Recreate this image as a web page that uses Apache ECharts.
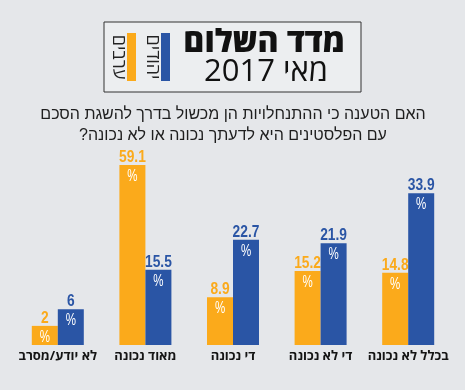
<!DOCTYPE html>
<html>
<head>
<meta charset="utf-8">
<script src="https://cdn.jsdelivr.net/npm/echarts@6/dist/echarts.min.js"></script>
<style>
html,body{margin:0;padding:0;background:#e5e7ea;}
#chart{width:465px;height:390px;}
</style>
</head>
<body>
<div id="chart"></div>
<script>
const categories = ['לא יודע/מסרב', 'מאוד נכונה', 'די נכונה', 'די לא נכונה', 'בכלל לא נכונה'];
const arabs = [2, 59.1, 8.9, 15.2, 14.8];
const jews = [6, 15.5, 22.7, 21.9, 33.9];
const seriesNames = ['ערבים', 'יהודים'];
const titleLine1 = 'מדד השלום';
const titleLine2 = 'מאי 2017';
const questionLines = ['האם הטענה כי ההתנחלויות הן מכשול בדרך להשגת הסכם', 'עם הפלסטינים היא לדעתך נכונה או לא נכונה?\u200F'];

const ORANGE = '#fbaa1b';
const BLUE = '#2a55a5';
const AXIS_MIN = -2.6;
const AXIS_MAX = 40.7;
const BAR_W = 26;
const HEB = '"Open Sans", "Liberation Sans", Arial, sans-serif';
const NUM_FONT = 'bold 16px "Liberation Sans", Arial, sans-serif';
const PCT_FONT = '16px "Liberation Sans", Arial, sans-serif';

function makeSeries(name, values, color, side) {
  return {
    type: 'custom',
    name: name,
    data: values.map((v, i) => [i, v]),
    encode: { x: 0, y: 1 },
    renderItem: function (params, api) {
      const i = api.value(0);
      const v = api.value(1);
      const top = api.coord([i, v]);
      const base = api.coord([i, AXIS_MIN]);
      const cs = params.coordSys;
      const yTop = Math.max(top[1], cs.y);
      const x0 = side < 0 ? top[0] - BAR_W : top[0];
      const cx = x0 + BAR_W / 2;
      return {
        type: 'group',
        children: [
          { type: 'rect', shape: { x: x0, y: yTop, width: BAR_W, height: base[1] - yTop }, style: { fill: color } },
          { type: 'text', x: cx, y: yTop - 7.5, scaleX: 0.86, style: { text: String(v), x: 0, y: 0, align: 'center', verticalAlign: 'middle', fill: color, font: NUM_FONT } },
          { type: 'text', x: cx, y: yTop + 11.5, scaleX: 0.72, style: { text: '%', x: 0, y: 0, align: 'center', verticalAlign: 'middle', fill: '#ffffff', font: PCT_FONT } }
        ]
      };
    }
  };
}

const chart = echarts.init(document.getElementById('chart'));
chart.setOption({
  backgroundColor: '#e5e7ea',
  animation: false,
  grid: { left: 14, right: 13, top: 165, bottom: 45 },
  xAxis: {
    type: 'category',
    data: categories,
    axisLine: { show: false },
    axisTick: { show: false },
    axisLabel: { margin: 5, color: '#151515', fontSize: 13, fontWeight: 'bold', fontFamily: HEB, interval: 0 }
  },
  yAxis: { type: 'value', min: AXIS_MIN, max: AXIS_MAX, show: false, splitLine: { show: false } },
  series: [
    makeSeries(seriesNames[0], arabs, ORANGE, -1),
    makeSeries(seriesNames[1], jews, BLUE, 1)
  ],
  graphic: [
    { type: 'rect', shape: { x: 104, y: 22, width: 257, height: 70 }, style: { fill: '#eceef0', stroke: '#333333', lineWidth: 1 } },
    { type: 'rect', shape: { x: 127, y: 33, width: 9, height: 48 }, style: { fill: ORANGE } },
    { type: 'rect', shape: { x: 161, y: 33, width: 9, height: 48 }, style: { fill: BLUE } },
    { type: 'text', x: 118, y: 57, rotation: -Math.PI / 2, style: { text: seriesNames[0], align: 'center', verticalAlign: 'middle', fill: '#222', font: '18px ' + HEB } },
    { type: 'text', x: 152, y: 57, rotation: -Math.PI / 2, style: { text: seriesNames[1], align: 'center', verticalAlign: 'middle', fill: '#222', font: '18px ' + HEB } },
    { type: 'text', x: 264, y: 43, style: { text: titleLine1, align: 'center', verticalAlign: 'middle', fill: '#111', font: '800 32px ' + HEB } },
    { type: 'text', x: 266, y: 72, style: { text: titleLine2, align: 'center', verticalAlign: 'middle', fill: '#111', font: '31px ' + HEB } },
    { type: 'text', x: 233, y: 115, style: { text: questionLines[0], align: 'center', verticalAlign: 'middle', fill: '#1e1e1e', font: '16px "Liberation Sans", Arial, sans-serif' } },
    { type: 'text', x: 233, y: 136, style: { text: questionLines[1], align: 'center', verticalAlign: 'middle', fill: '#1e1e1e', font: '16px "Liberation Sans", Arial, sans-serif' } }
  ]
});
</script>
</body>
</html>
